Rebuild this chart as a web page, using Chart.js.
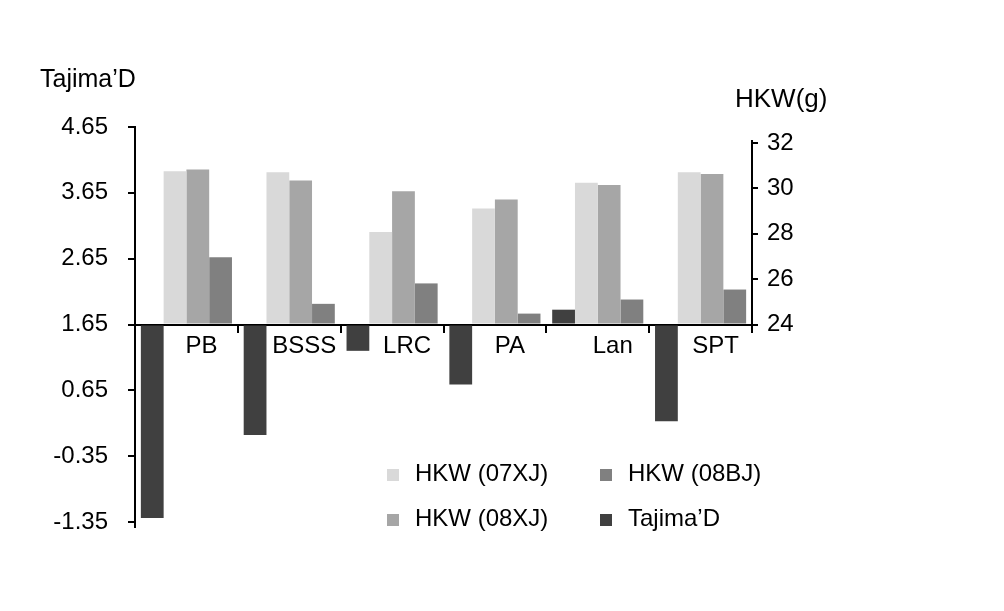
<!DOCTYPE html>
<html>
<head>
<meta charset="utf-8">
<script src="https://cdn.jsdelivr.net/npm/chart.js@4.4.0/dist/chart.umd.min.js"></script>
<style>
body { margin: 0; background: #fff; }
#wrap { position: relative; width: 1004px; height: 611px; font-family: "Liberation Sans", Arial, sans-serif; color: #000; }
.lbl { position: absolute; line-height: 1; white-space: nowrap; }
.key { position: absolute; width: 12px; height: 12px; }
</style>
</head>
<body>
<div id="wrap">
  <canvas id="chart" width="1004" height="611"></canvas>
  <div class="lbl" style="left:40px;top:66px;font-size:25px">Tajima’D</div>
  <div class="lbl" style="left:735px;top:85px;font-size:26px">HKW(g)</div>
  <div id="legend"></div>
</div>
<script>
// data
var categories = ["PB", "BSSS", "LRC", "PA", "Lan", "SPT"];
var tajimaD = [-1.29, -0.03, 1.25, 0.74, 1.875, 0.18];
var hkw07XJ = [30.75, 30.71, 28.08, 29.11, 30.24, 30.71];
var hkw08XJ = [30.83, 30.34, 29.87, 29.51, 30.14, 30.63];
var hkw08BJ = [26.96, 24.91, 25.81, 24.48, 25.10, 25.54];
var leftTicks = [-1.35, -0.35, 0.65, 1.65, 2.65, 3.65, 4.65];
var rightTicks = [24, 26, 28, 30, 32];

var tickFont = { family: "'Liberation Sans', Arial, sans-serif", size: 24 };

// right axis only covers the upper part of the plot, so draw its line by hand
// (also lets the left axis run a little past its last tick, like the original)
var axisLines = {
    id: 'axisLines',
    afterDraw: function (chart) {
        var s = chart.scales.y1, ctx = chart.ctx, a = chart.chartArea;
        ctx.save();
        ctx.strokeStyle = '#000';
        ctx.lineWidth = 2;
        ctx.beginPath();
        ctx.moveTo(a.right, s.getPixelForValue(rightTicks[rightTicks.length - 1]) - 3);
        ctx.lineTo(a.right, s.getPixelForValue(rightTicks[0]));
        ctx.moveTo(a.left, a.bottom - 1);
        ctx.lineTo(a.left, a.bottom + 6);
        ctx.stroke();
        ctx.restore();
    }
};

var datasets = [
    { label: "Tajima’D", data: tajimaD, backgroundColor: "#404040", yAxisID: "y", base: 1.65 },
    { label: "HKW (07XJ)", data: hkw07XJ, backgroundColor: "#d9d9d9", yAxisID: "y1", base: 24 },
    { label: "HKW (08XJ)", data: hkw08XJ, backgroundColor: "#a6a6a6", yAxisID: "y1", base: 24 },
    { label: "HKW (08BJ)", data: hkw08BJ, backgroundColor: "#808080", yAxisID: "y1", base: 24 }
];

new Chart(document.getElementById("chart"), {
    type: 'bar',
    data: { labels: categories, datasets: datasets },
    options: {
        responsive: false,
        animation: false,
        categoryPercentage: 0.886,
        barPercentage: 1.0,
        layout: { padding: { top: 127, bottom: 89, left: 0, right: 0 } },
        plugins: { legend: { display: false }, tooltip: { enabled: false } },
        scales: {
            x: {
                position: { y: 1.65 },
                grid: { drawOnChartArea: false, drawTicks: true, tickLength: 7, color: '#000', lineWidth: 2 },
                border: { display: true, color: '#000', width: 2 },
                ticks: { color: '#000', font: tickFont, labelOffset: 15, padding: 0, autoSkip: false, maxRotation: 0 }
            },
            y: {
                position: 'left',
                min: -1.35,
                max: 4.65,
                afterBuildTicks: function (s) { s.ticks = leftTicks.map(function (v) { return { value: v }; }); },
                afterFit: function (s) { s.width = 135; },
                grid: { drawOnChartArea: false, drawTicks: true, tickLength: 7, color: '#000', lineWidth: 2 },
                border: { display: true, color: '#000', width: 2 },
                ticks: { color: '#000', font: tickFont, padding: 20, callback: function (v) { return v.toFixed(2); } }
            },
            y1: {
                position: 'right',
                min: 15.3,
                max: 32.7,
                afterBuildTicks: function (s) { s.ticks = rightTicks.map(function (v) { return { value: v }; }); },
                afterFit: function (s) { s.width = 252; },
                grid: { drawOnChartArea: false, drawTicks: true, tickLength: 6, color: '#000', lineWidth: 2 },
                border: { display: false },
                ticks: { color: '#000', font: tickFont, padding: 9, callback: function (v) { return String(v); } }
            }
        }
    },
    plugins: [axisLines]
});

// legend, 2x2 in the lower right
var legendSpots = [
    { ds: 1, x: 387, y: 469 },
    { ds: 3, x: 600, y: 469 },
    { ds: 2, x: 387, y: 514 },
    { ds: 0, x: 600, y: 514 }
];
var legendBox = document.getElementById("legend");
legendSpots.forEach(function (p) {
    var d = datasets[p.ds];
    var k = document.createElement("div");
    k.className = "key";
    k.style.left = p.x + "px";
    k.style.top = p.y + "px";
    k.style.background = d.backgroundColor;
    legendBox.appendChild(k);
    var t = document.createElement("div");
    t.className = "lbl";
    t.style.left = (p.x + 28) + "px";
    t.style.top = (p.y - 8) + "px";
    t.style.fontSize = "24px";
    t.textContent = d.label;
    legendBox.appendChild(t);
});
</script>
</body>
</html>
